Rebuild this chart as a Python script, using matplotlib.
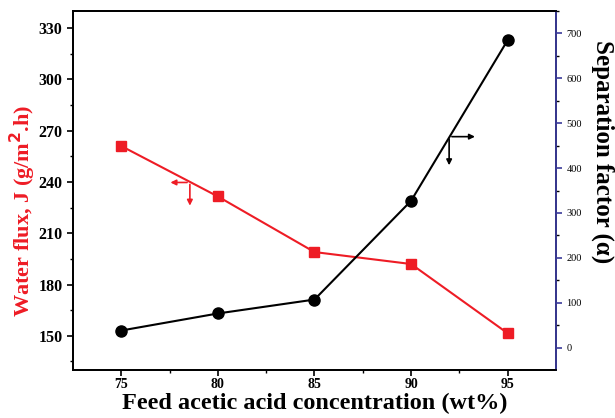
import matplotlib

matplotlib.use("Agg")
import matplotlib.pyplot as plt

# data
conc = [75, 80, 85, 90, 95]
flux = [261, 231.5, 199, 192, 151.5]
sep_factor = [38, 76, 107, 327, 685]

RED = "#EE1C25"
NAVY = "#3B3B9A"

plt.rcParams["font.family"] = ["Liberation Serif", "DejaVu Serif"]

fig = plt.figure(figsize=(6.15, 4.18), dpi=100)
ax = fig.add_axes([0.1187, 0.1148, 0.7853, 0.8589])
ax2 = ax.twinx()

ax.plot(conc, flux, "-", color=RED, lw=1.5, marker="s", ms=7, zorder=3)
ax2.plot(conc, sep_factor, "-", color="black", lw=1.5, marker="o", ms=8,
         zorder=3)

ax.set_xlim(72.5, 97.5)
ax.set_ylim(130, 340)
ax2.set_ylim(-50, 750)
ax.set_xticks([75, 80, 85, 90, 95])
ax.set_xticks([77.5, 82.5, 87.5, 92.5], minor=True)
ax.set_yticks(range(150, 331, 30))
ax.set_yticks(range(135, 340, 30), minor=True)
ax2.set_yticks(range(0, 701, 100))
ax2.set_yticks(range(50, 751, 100), minor=True)

for a in (ax, ax2):
    a.tick_params(which="both", direction="out")
    a.tick_params(which="major", length=4, width=1.2)
    a.tick_params(which="minor", length=2.5, width=1.0)
    for s in a.spines.values():
        s.set_linewidth(1.3)
ax2.spines["right"].set_color(NAVY)
ax2.tick_params(axis="y", colors=NAVY, labelcolor="black", labelsize=7.5)
ax.tick_params(axis="y", labelsize=11.5)
ax.tick_params(axis="x", labelsize=10, pad=2)
for lab in ax.get_xticklabels() + ax.get_yticklabels():
    lab.set_fontweight("bold")

ax.set_xlabel("Feed acetic acid concentration (wt%)", fontsize=17.5,
              fontweight="bold", labelpad=1)
ax.set_ylabel("Water flux, J (g/m$^\\mathbf{2}$.h)", fontsize=16,
              fontweight="bold", color=RED, va="center")
ax.yaxis.set_label_coords(-0.104, 0.443)
ax2.set_ylabel("Separation factor (\u03b1)", fontsize=18, fontweight="bold",
               rotation=270, va="center")
ax2.yaxis.set_label_coords(1.097, 0.607)

# axis indicator arrows
ax.annotate("", xy=(77.4, 239.7), xytext=(78.55, 239.7),
            arrowprops=dict(arrowstyle="-|>", color=RED, lw=1.2,
                            mutation_scale=8))
ax.annotate("", xy=(78.55, 224.5), xytext=(78.55, 240.2),
            arrowprops=dict(arrowstyle="-|>", color=RED, lw=1.2,
                            mutation_scale=8))
ax2.annotate("", xy=(93.45, 470), xytext=(91.97, 470),
             arrowprops=dict(arrowstyle="-|>", color="black", lw=1.2,
                             mutation_scale=8))
ax2.annotate("", xy=(91.97, 400), xytext=(91.97, 471),
             arrowprops=dict(arrowstyle="-|>", color="black", lw=1.2,
                             mutation_scale=8))

fig.savefig("out.png", dpi=100)
